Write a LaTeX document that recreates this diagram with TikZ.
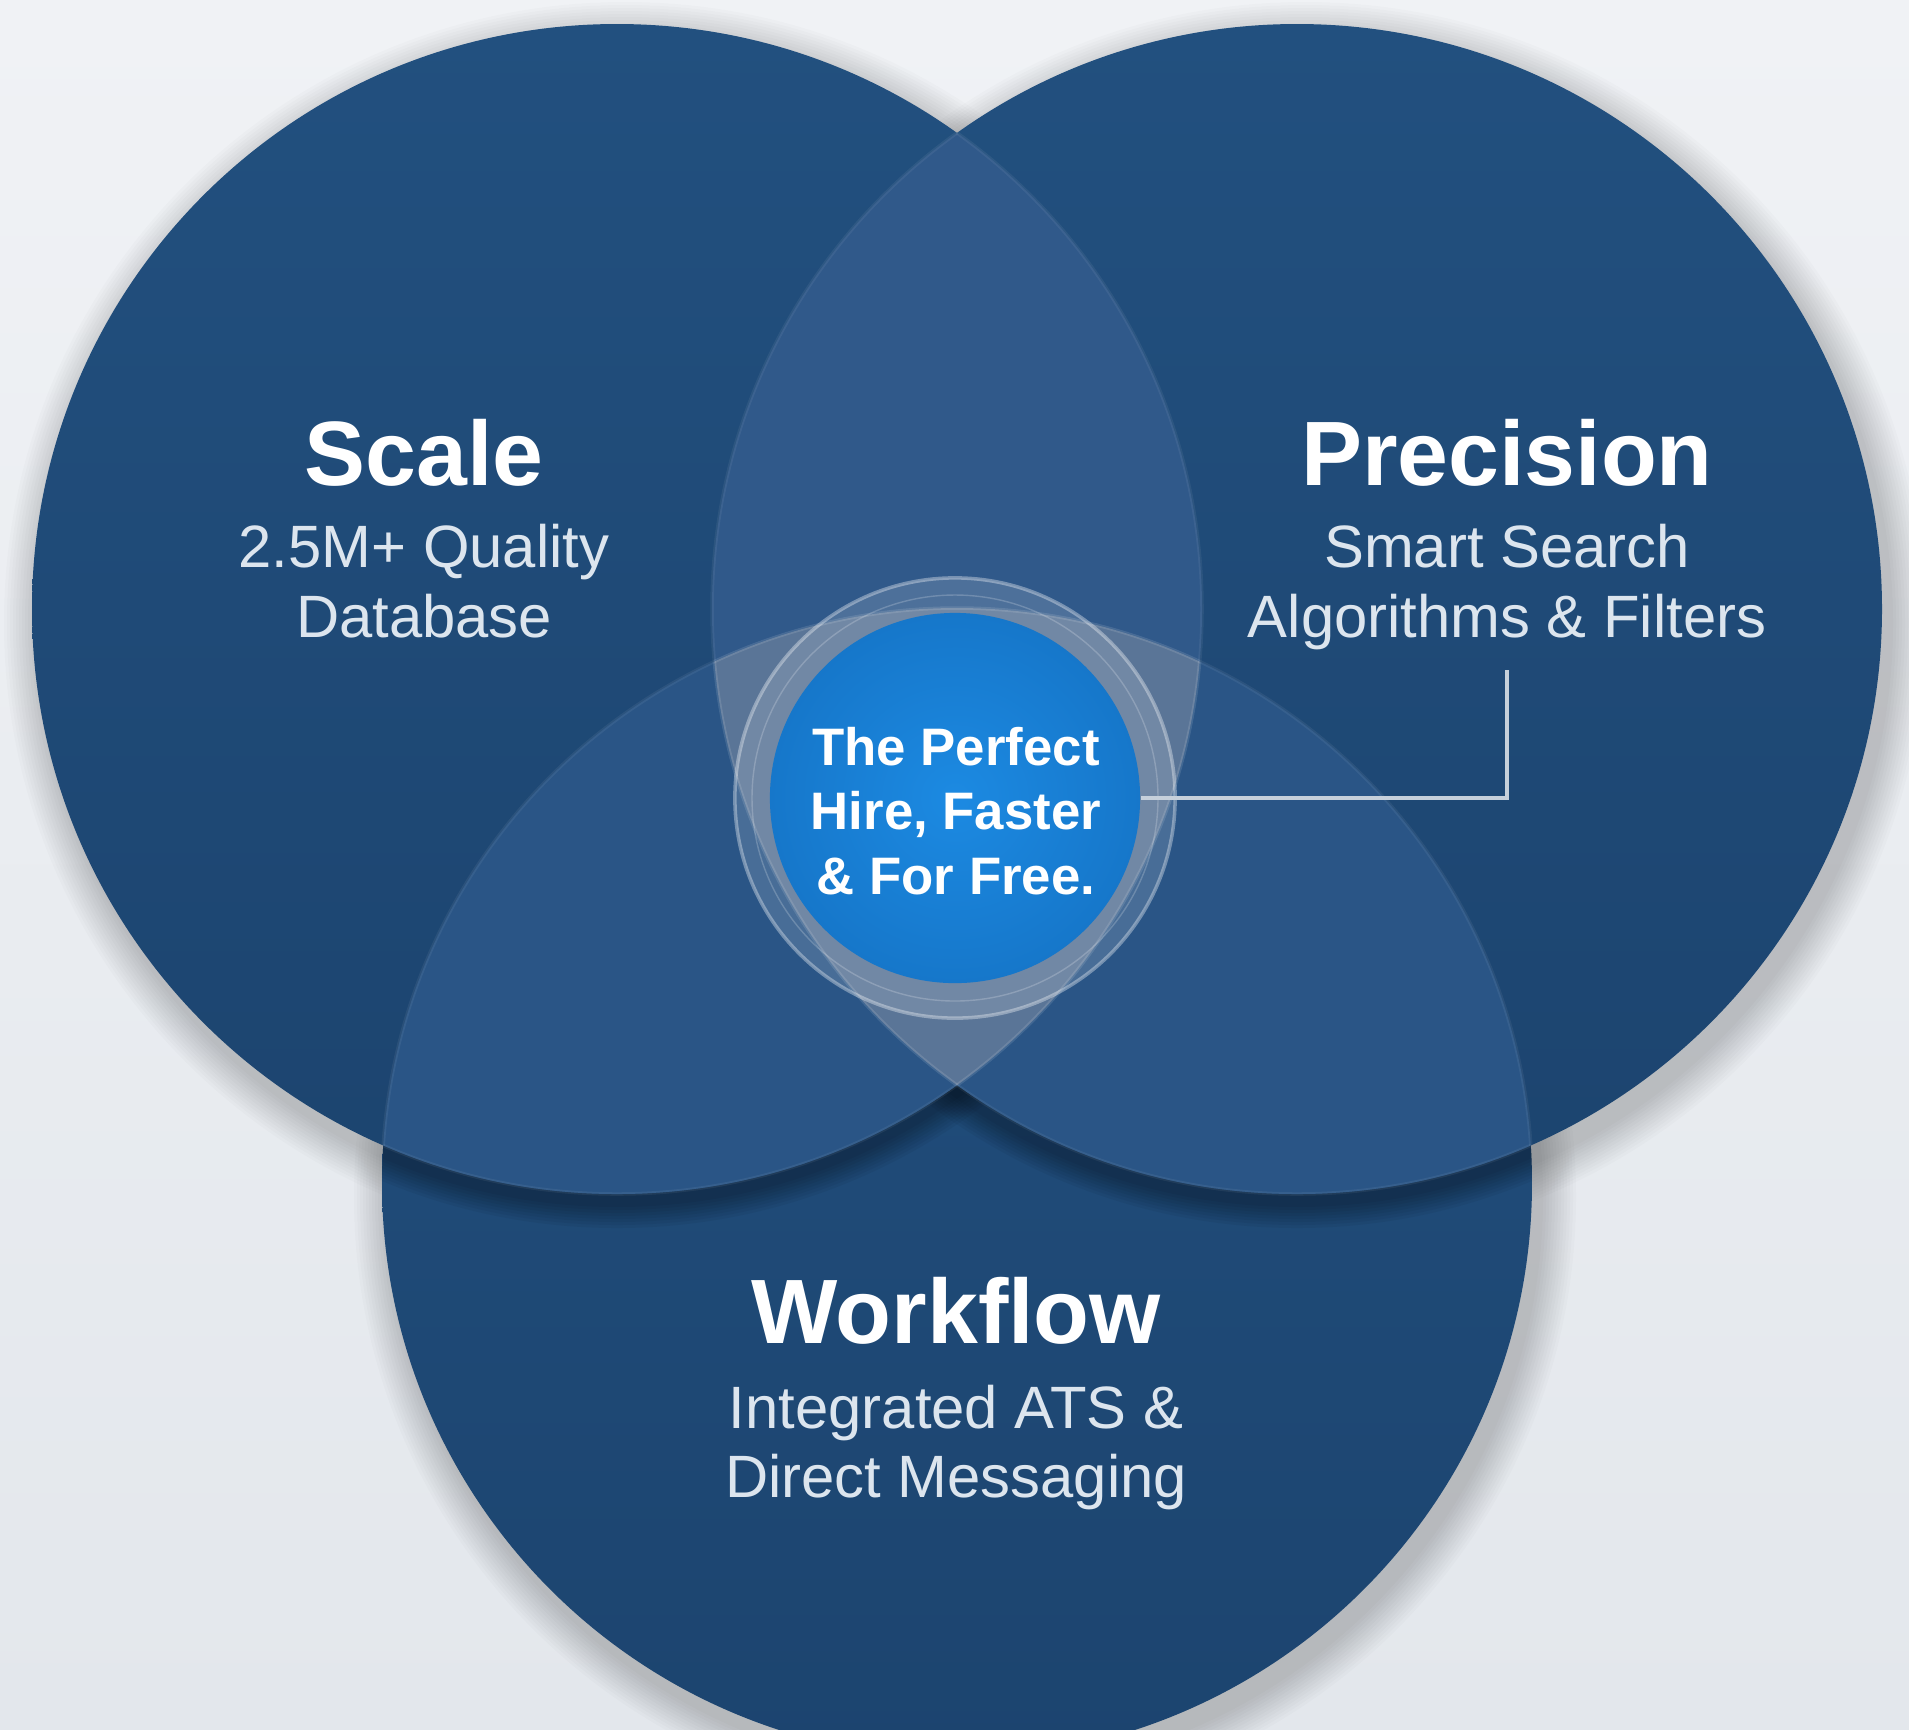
\documentclass[tikz,border=0pt]{standalone}
\usepackage{fontspec}
\setmainfont{Liberation Sans}
\usetikzlibrary{positioning,calc}

\definecolor{bgtop}{HTML}{F0F2F5}
\definecolor{bgbot}{HTML}{E3E7EC}
\definecolor{navytop}{HTML}{22507F}
\definecolor{navybot}{HTML}{1C446F}
\definecolor{lensup}{HTML}{30598A}
\definecolor{lenslow}{HTML}{2A5586}
\definecolor{triple}{HTML}{5A7597}
\definecolor{hireblue}{HTML}{1C8AE2}
\definecolor{hireedge}{HTML}{1677CA}
\definecolor{subtext}{HTML}{DCE5EE}
\definecolor{linkgray}{HTML}{C6D0DB}

\tikzset{
  title/.style={text=white,font=\fontsize{26}{30}\selectfont\bfseries,anchor=base},
  subtitle/.style={text=subtext,font=\fontsize{17}{20}\selectfont,anchor=base},
  hiretext/.style={text=white,font=\fontsize{15}{18.3}\selectfont\bfseries,align=center},
  glass/.style={circle,minimum size=4.4cm,inner sep=0pt,fill=white,fill opacity=0.14,draw=white,draw opacity=0.35,line width=1pt},
  hiredisk/.style={circle,minimum size=3.7cm,inner sep=0pt,inner color=hireblue,outer color=hireedge},
  edge/.style={draw=white,opacity=0.06,line width=1pt},
  link/.style={draw=linkgray,line width=1pt},
}

\begin{document}
\begin{tikzpicture}[x=0.01cm,y=-0.01cm]
\clip (0,0) rectangle (1909,1729);
\shade[top color=bgtop,bottom color=bgbot] (0,0) rectangle (1909,1729);

\coordinate (cL) at (617,609);
\coordinate (cR) at (1297,609);
\coordinate (cB) at (957,1183);

% soft shadows on the background
\foreach \c/\r in {cL/585,cR/585,cB/575}
  \foreach \k in {1,...,12}
    \fill[black,opacity=0.014] ($(\c)+(8,14)$) circle[radius={\r+\k*3}];

% bottom circle, with the shadow of the two upper ones
\shade[top color=navytop,bottom color=navybot] (cB) circle[radius=575];
\begin{scope}
  \clip (cB) circle[radius=575];
  \foreach \c in {cL,cR}
    \foreach \k in {1,...,8}
      \fill[black,opacity=0.045] ($(\c)+(0,10)$) circle[radius={585+\k*3}];
\end{scope}

% upper circles
\shade[top color=navytop,bottom color=navybot] (cL) circle[radius=585];
\shade[top color=navytop,bottom color=navybot] (cR) circle[radius=585];

% overlaps
\begin{scope}
  \clip (cL) circle[radius=585];
  \fill[lensup] (cR) circle[radius=585];
  \fill[lenslow] (cB) circle[radius=575];
\end{scope}
\begin{scope}
  \clip (cR) circle[radius=585];
  \fill[lenslow] (cB) circle[radius=575];
\end{scope}
\begin{scope}
  \clip (cL) circle[radius=585];
  \clip (cR) circle[radius=585];
  \fill[triple] (cB) circle[radius=575];
\end{scope}

% glass edges inside the overlaps
\begin{scope}
  \clip (cL) circle[radius=585];
  \draw[edge] (cR) circle[radius=585];
  \draw[edge] (cB) circle[radius=575];
\end{scope}
\begin{scope}
  \clip (cR) circle[radius=585];
  \draw[edge] (cL) circle[radius=585];
  \draw[edge] (cB) circle[radius=575];
\end{scope}
\begin{scope}
  \clip (cB) circle[radius=575];
  \draw[edge] (cL) circle[radius=585];
  \draw[edge] (cR) circle[radius=585];
\end{scope}

% centre
\node[glass] (ring) at (955,798) {};
\draw[white,opacity=0.2] (ring.center) circle[radius=203];
\node[hiredisk] (hire) at (ring.center) {};
\node[hiretext] (hirelabel) at (956,811) {The Perfect\\Hire, Faster\\\& For Free.};

% labels
\node[title] (scale) at (424,485) {Scale};
\node[subtitle] (scale1) at (424,567) {2.5M+ Quality};
\node[subtitle] (scale2) at (424,637) {Database};

\node[title] (precision) at (1507,485) {Precision};
\node[subtitle] (precision1) at (1507,567) {Smart Search};
\node[subtitle] (precision2) at (1507,637) {Algorithms \& Filters};

\node[title] (workflow) at (956,1343) {Workflow};
\node[subtitle] (workflow1) at (956,1428) {Integrated ATS \&};
\node[subtitle] (workflow2) at (956,1497) {Direct Messaging};

\coordinate (tick) at (1507,670);
\draw[link] (hire.east) -| (tick);
\end{tikzpicture}
\end{document}
